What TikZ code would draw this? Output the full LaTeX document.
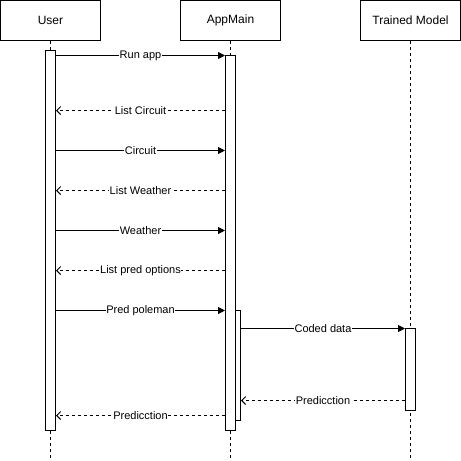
\documentclass[tikz,border=0pt]{standalone}
\usepackage{fontspec}
\setmainfont{Liberation Sans}
\usetikzlibrary{arrows.meta}
\begin{document}
\begin{tikzpicture}[x=1pt,y=-1pt,line width=1pt,
  actor/.style={draw,fill=white,minimum width=100pt,minimum height=40pt,inner sep=0pt,font=\fontsize{12}{14}\selectfont},
  life/.style={draw,dash pattern=on 3pt off 3pt},
  act/.style={draw,fill=white,inner sep=0pt,minimum width=10pt},
  sync/.style={draw,-{Triangle[length=7pt,width=7pt]}},
  reply/.style={draw,dash pattern=on 3pt off 3pt,-{Straight Barb[length=4pt,width=8pt]}},
  lbl/.style={fill=white,inner sep=0.5pt,font=\fontsize{11}{13}\selectfont,midway}]
\useasboundingbox (0,0) rectangle (461,461);
% actors
\node[actor] (user) at (50.5,20.5) {User};
\node[actor] (app) at (230.5,20.5) {AppMain};
\node[actor] (model) at (410.5,20.5) {Trained Model};
% lifelines
\coordinate (userEnd) at (50.5,461);
\coordinate (appEnd) at (230.5,461);
\coordinate (modelEnd) at (410.5,461);
\draw[life] (user.south) -- (userEnd);
\draw[life] (app.south) -- (appEnd);
\draw[life] (model.south) -- (modelEnd);
% activations
\node[act,minimum height=380pt] (ua) at (50.5,240.5) {};
\node[act,minimum height=375pt] (aa) at (230.5,243) {};
\node[act,minimum width=5pt,minimum height=110pt] (ab) at (238,365.5) {};
\node[act,minimum height=82pt] (ma) at (410.5,369) {};
% endpoints
\coordinate (u1) at (ua.east |- 0,55.5);
\coordinate (a1) at (aa.west |- 0,55.5);
\coordinate (u2) at (ua.east |- 0,110.5);
\coordinate (a2) at (aa.west |- 0,110.5);
\coordinate (u3) at (ua.east |- 0,150.5);
\coordinate (a3) at (aa.west |- 0,150.5);
\coordinate (u4) at (ua.east |- 0,190.5);
\coordinate (a4) at (aa.west |- 0,190.5);
\coordinate (u5) at (ua.east |- 0,230.5);
\coordinate (a5) at (aa.west |- 0,230.5);
\coordinate (u6) at (ua.east |- 0,270.5);
\coordinate (a6) at (aa.west |- 0,270.5);
\coordinate (u7) at (ua.east |- 0,310.5);
\coordinate (a7) at (aa.west |- 0,310.5);
\coordinate (b8) at (ab.east |- 0,328.5);
\coordinate (m8) at (ma.west |- 0,328.5);
\coordinate (b9) at (ab.east |- 0,400.5);
\coordinate (m9) at (ma.west |- 0,400.5);
\coordinate (u10) at (ua.east |- 0,415.5);
\coordinate (a10) at (aa.west |- 0,415.5);
% messages
\draw[sync] (u1) -- node[lbl] (t1) {Run app} (a1);
\draw[reply] (a2) -- node[lbl] (t2) {List Circuit} (u2);
\draw[sync] (u3) -- node[lbl] (t3) {Circuit} (a3);
\draw[reply] (a4) -- node[lbl] (t4) {List Weather} (u4);
\draw[sync] (u5) -- node[lbl] (t5) {Weather} (a5);
\draw[reply] (a6) -- node[lbl] (t6) {List pred options} (u6);
\draw[sync] (u7) -- node[lbl] (t7) {Pred poleman} (a7);
\draw[sync] (b8) -- node[lbl] (t8) {Coded data} (m8);
\draw[reply] (m9) -- node[lbl] (t9) {Predicction} (b9);
\draw[reply] (a10) -- node[lbl] (t10) {Predicction} (u10);
\end{tikzpicture}
\end{document}
